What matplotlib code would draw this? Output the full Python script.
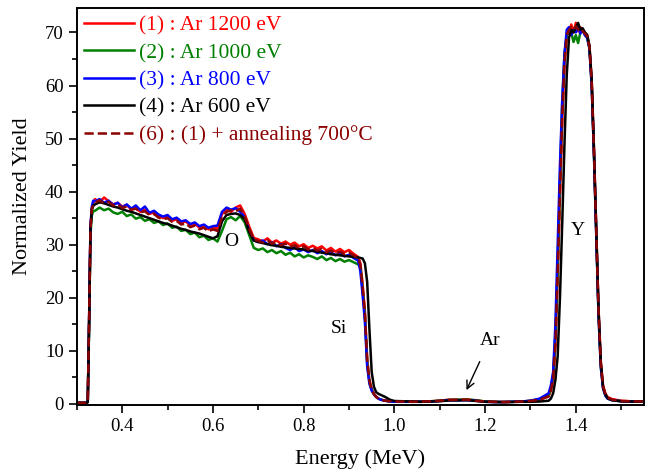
import numpy as np
import matplotlib
matplotlib.use("Agg")
import matplotlib.pyplot as plt
from matplotlib.ticker import MultipleLocator

plt.rcParams['font.family'] = ['Liberation Serif', 'DejaVu Serif']

# energy grid (MeV), common to all spectra
energy = [0.30, 0.32, 0.324, 0.327, 0.330, 0.333, 0.336,
          0.34, 0.35, 0.36, 0.37, 0.38, 0.39, 0.40, 0.41, 0.42, 0.43,
          0.44, 0.45, 0.46, 0.47, 0.48, 0.49, 0.50, 0.51, 0.52, 0.53,
          0.54, 0.55, 0.56, 0.57, 0.58, 0.59, 0.60, 0.61, 0.62, 0.63,
          0.64, 0.65, 0.66, 0.67, 0.68, 0.69, 0.70, 0.71, 0.72, 0.73,
          0.74, 0.75, 0.76, 0.77, 0.78, 0.79, 0.80, 0.81, 0.82, 0.83,
          0.84, 0.85, 0.86, 0.87, 0.88, 0.89, 0.90, 0.91, 0.92,
          0.925, 0.93, 0.935, 0.94, 0.945, 0.95, 0.955, 0.96, 0.965, 0.97, 0.98, 0.99, 1.00,
          1.02, 1.04, 1.06, 1.08, 1.10, 1.12, 1.14, 1.16, 1.18, 1.20,
          1.22, 1.24, 1.26, 1.28, 1.30, 1.32, 1.34,
          1.345, 1.35, 1.355, 1.36, 1.365, 1.37, 1.375, 1.38, 1.385, 1.39,
          1.395, 1.40, 1.405, 1.41, 1.415, 1.42, 1.425, 1.43, 1.435, 1.44,
          1.445, 1.45, 1.455, 1.46, 1.465, 1.47,
          1.48, 1.50, 1.52, 1.55]

# (1) Ar 1200 eV
y_1200 = ([0.2, 0.2, 0.4, 16, 33, 36.8, 37.8]
          + [38.6, 38.0, 38.9, 38.2, 37.6, 37.9, 37.2, 37.5, 36.6, 36.9,
             36.2, 36.6, 35.8, 36.1, 35.4, 35.0, 35.3, 34.5, 34.8, 34.1,
             34.4, 33.6, 34.0, 33.2, 33.6, 32.9, 33.3, 33.0, 35.8, 36.6,
             36.2, 37.0, 37.4, 35.8, 33.4, 31.3, 31.0, 30.6, 31.2, 30.4,
             30.8, 30.2, 30.6, 30.0, 30.4, 29.7, 30.1, 29.4, 29.8, 29.3,
             29.7, 28.9, 29.4, 28.7, 29.2, 28.6, 29.0, 28.3, 27.7]
          + [26.5, 22.5, 17.5, 8.5, 4.5, 2.8, 1.9, 1.4, 1.0, 0.8, 0.6, 0.5, 0.45]
          + [0.45, 0.4, 0.45, 0.5, 0.6, 0.8, 0.75, 0.85, 0.65, 0.45,
             0.4, 0.35, 0.4, 0.45, 0.55, 0.8, 1.4]
          + [2.5, 4.5, 11, 24, 39, 53, 64, 69.5, 70, 71.5,
             70, 71.8, 70.2, 71, 70.5, 70, 69.5, 67.5, 61, 48,
             33, 18, 8, 3.5, 2.0, 1.3]
          + [0.9, 0.6, 0.5, 0.45])

# (2) Ar 1000 eV
y_1000 = ([0.2, 0.2, 0.4, 15, 32, 35.5, 36.3]
          + [36.4, 37.0, 36.5, 36.8, 36.1, 35.8, 36.2, 35.4, 35.7, 34.9,
             35.2, 34.5, 34.8, 34.1, 34.4, 33.7, 34.0, 33.2, 33.4, 32.6,
             32.8, 32.0, 32.3, 31.4, 31.7, 30.9, 31.2, 30.6, 32.6, 34.8,
             35.2, 34.6, 35.4, 34.2, 31.8, 29.4, 29.0, 29.3, 28.6, 29.0,
             28.4, 28.8, 28.1, 28.5, 27.8, 28.2, 27.6, 28.0, 27.7, 27.3,
             27.8, 27.1, 27.5, 26.9, 27.3, 26.8, 27.1, 26.7, 26.3]
          + [25.8, 21.5, 16.5, 7.8, 4.0, 2.6, 1.8, 1.3, 1.0, 0.8, 0.6, 0.5, 0.45]
          + [0.45, 0.4, 0.4, 0.5, 0.6, 0.75, 0.8, 0.8, 0.7, 0.45,
             0.4, 0.35, 0.4, 0.45, 0.6, 0.9, 1.7]
          + [2.8, 5.5, 13, 26, 42, 57, 66, 69.5, 70.5, 70,
             68.2, 69.5, 68, 70, 70.5, 69.5, 69, 67, 60, 47,
             32, 17, 7, 3.0, 1.6, 1.0]
          + [0.7, 0.5, 0.45, 0.4])

# (3) Ar 800 eV
y_800 = ([0.2, 0.2, 0.4, 16, 33.5, 37.2, 38.3]
         + [38.2, 38.6, 37.9, 38.3, 37.5, 37.9, 37.0, 37.6, 36.8, 37.4,
            36.5, 37.2, 36.0, 36.4, 35.7, 35.3, 35.6, 34.8, 35.1, 34.4,
            34.6, 33.9, 34.2, 33.5, 33.8, 33.2, 33.5, 33.6, 36.2, 37.0,
            36.6, 36.9, 36.2, 35.2, 32.6, 30.8, 30.5, 30.8, 30.1, 30.4,
            29.7, 30.1, 29.4, 29.0, 29.5, 28.8, 29.1, 28.6, 29.0, 28.4,
            28.8, 28.2, 28.6, 28.0, 28.4, 27.8, 28.1, 27.5, 27.0]
         + [25.0, 20.5, 15.5, 7.0, 3.8, 2.5, 1.8, 1.3, 1.0, 0.8, 0.6, 0.45, 0.4]
         + [0.4, 0.4, 0.4, 0.45, 0.55, 0.7, 0.7, 0.7, 0.6, 0.4,
            0.35, 0.35, 0.4, 0.45, 0.6, 1.0, 2.0]
         + [3.5, 6, 15, 30, 45, 57, 66, 70.5, 71, 69.5,
            70.5, 70, 71, 69.8, 70.5, 69.5, 69, 67, 60, 47,
            32, 17, 7, 3.0, 1.6, 1.0]
         + [0.7, 0.5, 0.45, 0.4])

# (4) Ar 600 eV
y_600 = ([0.2, 0.2, 0.3, 15, 33, 36.5, 37.3]
         + [37.6, 38.0, 37.8, 37.5, 37.2, 37.0, 36.7, 36.4, 36.2, 35.9,
            35.6, 35.3, 35.0, 34.7, 34.4, 34.1, 33.9, 33.6, 33.3, 33.0,
            32.8, 32.5, 32.3, 32.1, 31.8, 31.5, 31.2, 31.6, 34.4, 35.6,
            35.8, 35.9, 35.6, 34.8, 32.4, 30.8, 30.5, 30.3, 30.1, 29.9,
            29.8, 29.6, 29.5, 29.4, 29.3, 29.2, 29.1, 28.9, 28.8, 28.7,
            28.5, 28.4, 28.2, 28.1, 28.0, 27.9, 27.8, 27.7, 27.6]
         + [27.5, 27.4, 26.5, 23.0, 14.0, 6.0, 3.2, 2.2, 1.9, 1.7, 1.3, 0.8, 0.55]
         + [0.5, 0.45, 0.4, 0.45, 0.5, 0.65, 0.65, 0.7, 0.55, 0.4,
            0.35, 0.35, 0.35, 0.4, 0.4, 0.45, 0.6]
         + [1.0, 2.0, 4.5, 9, 20, 34, 49, 62, 69, 70.5,
            70, 71, 71.8, 70.5, 70.8, 70, 69.5, 67.5, 61, 48,
            33, 18, 8, 3.2, 1.8, 1.1]
         + [0.7, 0.5, 0.45, 0.4])

# (6) = (1) + annealing 700 C
y_anneal = ([0.2, 0.2, 0.4, 16, 33, 36.8, 37.6]
            + [37.9, 38.4, 37.8, 38.1, 37.4, 37.6, 36.9, 37.2, 36.6, 36.8,
               36.1, 36.3, 35.6, 35.8, 35.1, 34.8, 35.0, 34.3, 34.5, 33.8,
               34.0, 33.3, 33.6, 32.9, 33.2, 32.5, 32.9, 32.6, 35.2, 36.2,
               36.5, 36.3, 36.8, 35.4, 33.0, 31.0, 30.7, 30.4, 30.8, 30.2,
               30.5, 29.9, 30.2, 29.6, 29.9, 29.3, 29.7, 29.1, 29.4, 28.9,
               29.2, 28.6, 28.9, 28.3, 28.7, 28.2, 28.5, 28.0, 27.5]
            + [26.2, 22.0, 17.0, 8.2, 4.3, 2.7, 1.8, 1.3, 1.0, 0.8, 0.6, 0.5, 0.45]
            + [0.45, 0.4, 0.45, 0.5, 0.6, 0.75, 0.8, 0.8, 0.6, 0.45,
               0.4, 0.35, 0.4, 0.45, 0.55, 0.8, 1.4]
            + [2.6, 4.8, 11.5, 25, 40, 54, 64.5, 69.5, 70.5, 71,
               70.5, 71.2, 70.5, 70.8, 70.2, 69.8, 69.2, 67.2, 60.5, 47.5,
               32.5, 17.5, 7.5, 3.3, 1.9, 1.2]
            + [0.8, 0.55, 0.5, 0.45])

labels = ['(1) : Ar 1200 eV', '(2) : Ar 1000 eV', '(3) : Ar 800 eV',
          '(4) : Ar 600 eV', '(6) : (1) + annealing 700°C']
colors = ['#FF0000', '#008000', '#0000FF', '#000000', '#8B0000']
styles = ['-', '-', '-', '-', '--']
series = [y_1200, y_1000, y_800, y_600, y_anneal]

fig = plt.figure(figsize=(6.57, 4.72), dpi=100)
ax = fig.add_axes([0.117, 0.142, 0.863, 0.841])

for y, lab, c, ls in zip(series, labels, colors, styles):
    ax.plot(energy, y, color=c, ls=ls, lw=1.8, label=lab)

ax.set_xlim(0.3, 1.55)
ax.set_ylim(-0.2, 74.6)
ax.xaxis.set_major_locator(MultipleLocator(0.2))
ax.xaxis.set_minor_locator(MultipleLocator(0.1))
ax.yaxis.set_major_locator(MultipleLocator(10))
ax.yaxis.set_minor_locator(MultipleLocator(5))
ax.tick_params(which='major', direction='out', length=6, width=1.2, labelsize=13.5)
ax.tick_params(which='minor', direction='out', length=3.5, width=1.2)
ax.set_xticks([0.4, 0.6, 0.8, 1.0, 1.2, 1.4])
for s in ax.spines.values():
    s.set_linewidth(1.4)

ax.set_xlabel('Energy (MeV)', fontsize=16, labelpad=10)
ax.set_ylabel('Normalized Yield', fontsize=16)
ax.yaxis.set_label_coords(-0.079, 0.527)

# peak labels
ax.text(0.641, 30.6, 'O', fontsize=14, ha='center', va='center')
ax.text(0.878, 14.3, 'Si', fontsize=14, ha='center', va='center')
ax.text(1.405, 32.7, 'Y', fontsize=14, ha='center', va='center')
ax.annotate('Ar', xy=(1.159, 2.6), xytext=(1.21, 12.0), fontsize=14,
            ha='center', va='center',
            arrowprops=dict(arrowstyle='->', color='black', lw=1.0,
                            shrinkA=8, shrinkB=0))

leg = ax.legend(loc='upper left', frameon=False, fontsize=15.5,
                handlelength=2.3, handletextpad=0.25, labelspacing=0.34,
                borderaxespad=0.2, borderpad=0.15)
for txt, c in zip(leg.get_texts(), colors):
    txt.set_color(c)

fig.savefig('out.png', dpi=100)
